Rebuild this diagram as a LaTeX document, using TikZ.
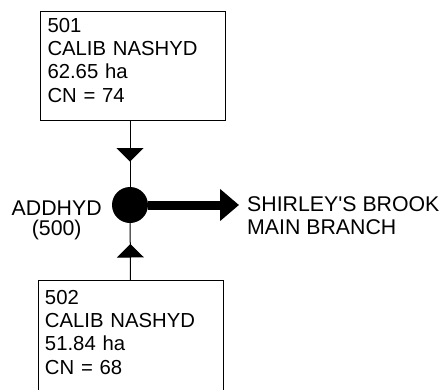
\documentclass[tikz,border=0pt]{standalone}
\usepackage{fontspec}
\setmainfont{Liberation Sans}
\usetikzlibrary{arrows.meta,decorations.markings}
\tikzset{
  basin/.style={draw, line width=1pt, anchor=north west, align=left,
    text width=171pt, inner xsep=7pt,
    font=\fontsize{20.3}{23.3}\selectfont},
  label/.style={inner sep=0pt, font=\fontsize{21.3}{23.3}\selectfont},
  junction/.style={circle, fill=black, minimum size=36pt, inner sep=0pt},
  conn/.style={line width=1pt},
  tri/.style={postaction={decorate}, decoration={markings,
    mark=at position #1 with {\arrow{Triangle[width=27pt,length=13.5pt]}}}},
  outflow/.style={line width=9pt, -{Triangle[width=31pt,length=19pt]}}
}
\begin{document}
\begin{tikzpicture}[x=1pt,y=-1pt]
\useasboundingbox (0,0) rectangle (448,389);
\node[basin, inner ysep=6.5pt] (b1) at (40,11)
  {501\\CALIB NASHYD\\62.65 ha\\CN = 74\rule[-11.5pt]{0pt}{11.5pt}};
\node[basin, inner ysep=9.5pt] (b2) at (37.5,280)
  {502\\CALIB NASHYD\\51.84 ha\\CN = 68\rule[-7.5pt]{0pt}{7.5pt}};
\node[junction] (c) at (130,205) {};
\node[label, align=center, anchor=north, font=\fontsize{21.3}{20.3}\selectfont] (lab) at (56.7,200.3) {ADDHYD\\(500)};
\node[label, align=left, anchor=north west] (out) at (247,196.5) {SHIRLEY\textquotesingle S BROOK\\MAIN BRANCH};
\coordinate (tip) at (239,205);
\draw[conn, tri=41pt] (b1.south -| c) -- (c);
\draw[conn, tri=36pt] (b2.north) -- (c);
\draw[outflow] (c) -- (tip);
\end{tikzpicture}
\end{document}
